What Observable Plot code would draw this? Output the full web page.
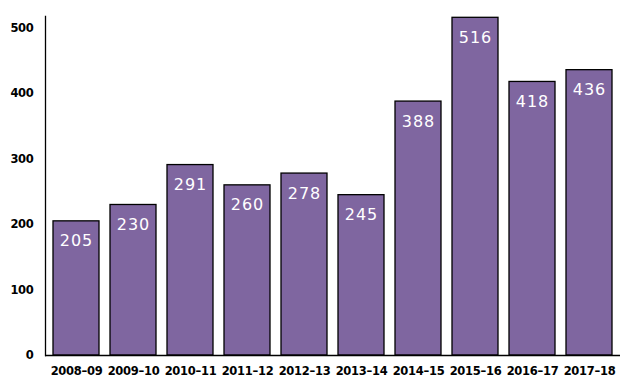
<!DOCTYPE html>
<html>
<head>
<meta charset="utf-8">
<script src="https://cdn.jsdelivr.net/npm/d3@7"></script>
<script src="https://cdn.jsdelivr.net/npm/@observablehq/plot@0.6"></script>
<style>
  html, body { margin: 0; padding: 0; background: #fff; }
  #chart svg { display: block; }
</style>
</head>
<body>
<div id="chart"></div>
<script>
const years = ["2008–09","2009–10","2010–11","2011–12","2012–13","2013–14","2014–15","2015–16","2016–17","2017–18"];
const counts = [205, 230, 291, 260, 278, 245, 388, 516, 418, 436];
const yTicks = [0, 100, 200, 300, 400, 500];

const data = years.map((y, i) => ({year: y, value: counts[i]}));

const chart = Plot.plot({
  width: 635,
  height: 391,
  marginLeft: 45,
  marginRight: 15,
  marginTop: 16,
  marginBottom: 36,
  style: {fontFamily: "'DejaVu Sans', Verdana, sans-serif", fontSize: "11.5px", fontWeight: "bold", background: "#fff", color: "#000", letterSpacing: "-0.3px"},
  x: {domain: years, padding: 0.2, paddingOuter: 0.1, label: null},
  y: {domain: [0, 518], label: null},
  marks: [
    Plot.barY(data, {x: "year", y: "value", fill: "#7f66a0", stroke: "#000", strokeWidth: 1.3}),
    Plot.text(data, {x: "year", y: "value", text: d => String(d.value), fill: "#fff", dy: 20, fontSize: 16, fontWeight: "normal", stroke: "none"}),
    Plot.axisX({tickSize: 0, tickPadding: 11, fontWeight: "bold"}),
    Plot.axisY({ticks: yTicks, tickSize: 0, tickPadding: 12, fontWeight: "bold", tickFormat: d => String(d)}),
    Plot.ruleY([0], {stroke: "#000", strokeWidth: 1.3}),
    Plot.frame({anchor: "left", stroke: "#000", strokeWidth: 1.3})
  ]
});
document.getElementById("chart").appendChild(chart);
chart.querySelectorAll("g[aria-label='text'] text").forEach(t => { t.style.letterSpacing = "1px"; });
</script>
</body>
</html>
